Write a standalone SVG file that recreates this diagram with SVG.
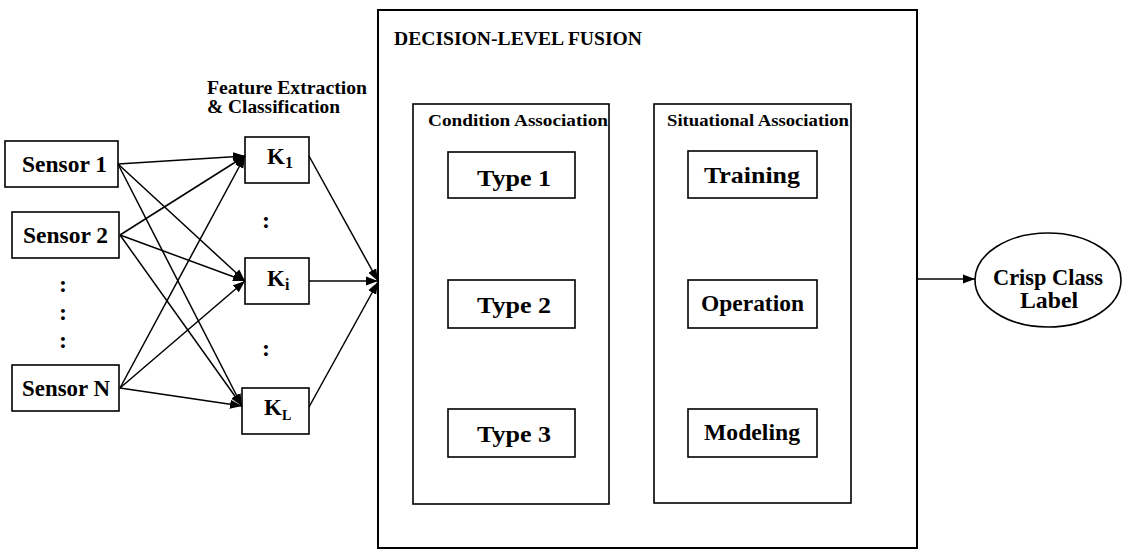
<svg xmlns="http://www.w3.org/2000/svg" width="1126" height="550" viewBox="0 0 1126 550">
  <style>
    .box { fill: #ffffff; stroke: #000000; stroke-width: 1.6; }
    .frame { fill: #ffffff; stroke: #000000; stroke-width: 2; }
    .lbl { font-family: "Liberation Serif", "Times New Roman", serif; font-weight: bold; fill: #000000; }
    .big { font-size: 23px; }
    .mid { font-size: 18px; }
    .cap { font-size: 16px; }
    .head { font-size: 19px; }
    .dots { font-size: 24px; }
    .wire { fill: none; stroke: #000000; stroke-width: 1.5; }
  </style>
  <defs>
    <marker id="arrow" markerUnits="userSpaceOnUse" markerWidth="13" markerHeight="10" refX="12" refY="5" orient="auto">
      <path d="M0,0.5 L12,5 L0,9.5 Z" fill="#000000"/>
    </marker>
  </defs>

  <rect width="1126" height="550" fill="#ffffff"/>

  <!-- fusion frame with its two association panels -->
  <g id="fusion">
    <rect class="frame" x="378" y="10" width="539" height="538"/>
    <text class="lbl head" x="394" y="45" textLength="248" lengthAdjust="spacingAndGlyphs">DECISION-LEVEL FUSION</text>
  </g>

  <g id="condition-association">
    <rect class="box" x="413" y="104" width="196" height="400"/>
    <text class="lbl cap" x="428" y="126" textLength="180" lengthAdjust="spacingAndGlyphs">Condition Association</text>
  </g>
  <g id="situational-association">
    <rect class="box" x="654" y="104" width="197" height="399"/>
    <text class="lbl cap" x="667" y="126" textLength="182" lengthAdjust="spacingAndGlyphs">Situational Association</text>
  </g>

  <g id="type1">
    <rect class="box" x="448" y="152" width="127" height="46"/>
    <text class="lbl big" x="477" y="186" textLength="74" lengthAdjust="spacingAndGlyphs">Type 1</text>
  </g>
  <g id="type2">
    <rect class="box" x="448" y="280" width="127" height="48"/>
    <text class="lbl big" x="477" y="313" textLength="74" lengthAdjust="spacingAndGlyphs">Type 2</text>
  </g>
  <g id="type3">
    <rect class="box" x="448" y="409" width="127" height="48"/>
    <text class="lbl big" x="477" y="442" textLength="74" lengthAdjust="spacingAndGlyphs">Type 3</text>
  </g>

  <g id="training">
    <rect class="box" x="688" y="151" width="129" height="47"/>
    <text class="lbl big" x="704" y="183" textLength="96" lengthAdjust="spacingAndGlyphs">Training</text>
  </g>
  <g id="operation">
    <rect class="box" x="688" y="280" width="129" height="48"/>
    <text class="lbl big" x="701" y="311" textLength="103" lengthAdjust="spacingAndGlyphs">Operation</text>
  </g>
  <g id="modeling">
    <rect class="box" x="688" y="409" width="129" height="48"/>
    <text class="lbl big" x="704" y="440" textLength="96" lengthAdjust="spacingAndGlyphs">Modeling</text>
  </g>

  <!-- sensors -->
  <g id="sensor1">
    <rect class="box" x="5" y="141" width="113" height="46"/>
    <text class="lbl big" x="22" y="172" textLength="85" lengthAdjust="spacingAndGlyphs">Sensor 1</text>
  </g>
  <g id="sensor2">
    <rect class="box" x="12" y="212" width="107" height="46"/>
    <text class="lbl big" x="23" y="243" textLength="85" lengthAdjust="spacingAndGlyphs">Sensor 2</text>
  </g>
  <g id="sensorN">
    <rect class="box" x="12" y="365" width="107" height="46"/>
    <text class="lbl big" x="22" y="396" textLength="88" lengthAdjust="spacingAndGlyphs">Sensor N</text>
  </g>
  <g id="sensor-ellipsis">
    <text class="lbl dots" x="63" y="292" text-anchor="middle">:</text>
    <text class="lbl dots" x="63" y="320" text-anchor="middle">:</text>
    <text class="lbl dots" x="63" y="348" text-anchor="middle">:</text>
  </g>

  <!-- classifiers -->
  <g id="feature-caption">
    <text class="lbl mid" x="207" y="94" textLength="160" lengthAdjust="spacingAndGlyphs">Feature Extraction</text>
    <text class="lbl mid" x="207" y="113" textLength="133" lengthAdjust="spacingAndGlyphs">&amp; Classification</text>
  </g>
  <g id="k1">
    <rect class="box" x="245" y="137" width="64" height="46"/>
    <text class="lbl big" x="267" y="164">K<tspan font-size="16" dy="4">1</tspan></text>
  </g>
  <g id="ki">
    <rect class="box" x="245" y="258" width="64" height="46"/>
    <text class="lbl big" x="267" y="286">K<tspan font-size="16" dy="4">i</tspan></text>
  </g>
  <g id="kL">
    <rect class="box" x="242" y="388" width="67" height="46"/>
    <text class="lbl big" x="264" y="415">K<tspan font-size="14" dy="5">L</tspan></text>
  </g>
  <g id="k-ellipsis">
    <text class="lbl dots" x="266" y="228" text-anchor="middle">:</text>
    <text class="lbl dots" x="266" y="356" text-anchor="middle">:</text>
  </g>

  <!-- output -->
  <g id="crisp-label">
    <ellipse class="box" cx="1048" cy="280" rx="73" ry="47"/>
    <text class="lbl big" x="1048" y="285" text-anchor="middle" textLength="110" lengthAdjust="spacingAndGlyphs">Crisp Class</text>
    <text class="lbl big" x="1049" y="308" text-anchor="middle" textLength="58" lengthAdjust="spacingAndGlyphs">Label</text>
  </g>

  <!-- connectors -->
  <g id="connectors" class="wire" marker-end="url(#arrow)">
    <line x1="118" y1="164" x2="245" y2="156"/>
    <line x1="118" y1="164" x2="245" y2="281"/>
    <line x1="118" y1="164" x2="242" y2="406"/>
    <line x1="120" y1="235" x2="245" y2="156"/>
    <line x1="120" y1="235" x2="245" y2="281"/>
    <line x1="120" y1="235" x2="242" y2="406"/>
    <line x1="120" y1="388" x2="245" y2="156"/>
    <line x1="120" y1="388" x2="245" y2="281"/>
    <line x1="120" y1="388" x2="242" y2="406"/>
    <line x1="309" y1="156" x2="378" y2="281"/>
    <line x1="309" y1="281" x2="378" y2="281"/>
    <line x1="309" y1="407" x2="378" y2="282"/>
    <line x1="917" y1="279" x2="975" y2="279"/>
  </g>
</svg>
